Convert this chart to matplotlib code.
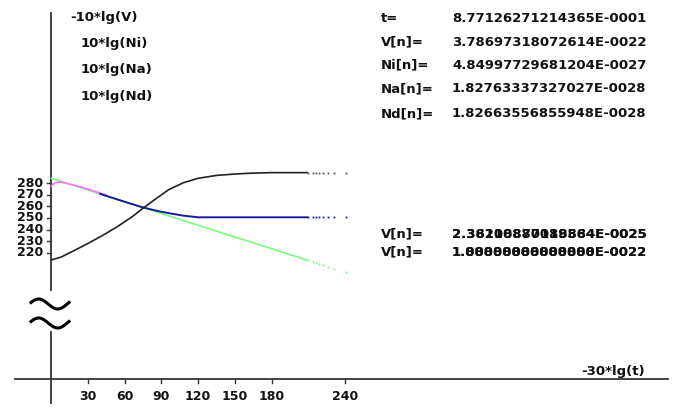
import numpy as np
import matplotlib
matplotlib.use('Agg')
import matplotlib.pyplot as plt
from matplotlib.transforms import blended_transform_factory

# data (t axis is -30*lg(t), y is 10*lg(...))
t_v = [0, 8, 18, 30, 42, 54, 66, 75, 84, 96, 108, 120, 135, 150, 165, 180, 209]
v_v = [213.7, 216.2, 221.5, 228, 235, 242.5, 251, 258.5, 265.5, 274.5, 280.5,
       284.3, 286.8, 288, 288.8, 289.2, 289.2]

t_ni = [40, 60, 72, 80, 88, 97, 108, 120, 209]
v_ni = [270.8, 264, 260, 257.8, 255.8, 254, 252, 250.6, 250.6]

t_na = [0, 3, 7, 15, 25, 35, 45]
v_na = [277.5, 280.3, 281.2, 279.3, 276.5, 273.2, 269.8]

t_nd = [0, 60, 120, 180, 209]
v_nd = [284.3, 264, 243.7, 223.5, 213.6]

# sparse points after the solid part
t_dots = [210, 213.5, 216, 219, 222, 226, 231, 240.5]
v_dots = [289.2] * 8
ni_dots = [250.6] * 8
nd_dots = [213.3, 212.1, 211.3, 210.3, 209.3, 207.9, 206.2, 203.0]

xticks = [30, 60, 90, 120, 150, 180, 240]
yticks = [280, 270, 260, 250, 240, 230, 220]

left_labels = ['-10*lg(V)', '10*lg(Ni)', '10*lg(Na)', '10*lg(Nd)']
right_names = ['t=', 'V[n]=', 'Ni[n]=', 'Na[n]=', 'Nd[n]=']
right_vals = ['8.77126271214365E-0001', '3.78697318072614E-0022',
              '4.84997729681204E-0027', '1.82763337327027E-0028',
              '1.82663556855948E-0028']

fnt = dict(family='DejaVu Sans', weight='bold', size=9.5, color='#111111')
fnt_tick = dict(family='DejaVu Sans', weight='bold', size=9, color='#111111')

fig = plt.figure(figsize=(6.75, 4.17), dpi=100)
fig.patch.set_facecolor('white')

# pixel overlay for the hand drawn axes and text
pix = fig.add_axes([0, 0, 1, 1])
pix.set_xlim(0, 675)
pix.set_ylim(417, 0)
pix.axis('off')

# data axes, scaled so t=0 sits on the vertical line
ax = fig.add_axes([0, 0, 1, 1])
ax.set_xlim(-41.9, 509.6)
ax.set_ylim(78.0, 438.4)
ax.axis('off')
ax.patch.set_alpha(0)

ax.plot(t_nd, v_nd, color='#7dfa7d', lw=1.2, zorder=2)
ax.plot(t_na, v_na, color='#ff70ff', lw=1.2, zorder=3)
ax.plot(t_ni, v_ni, color='#1a1aa0', lw=1.4, zorder=4)
ax.plot(t_v, v_v, color='#222222', lw=1.2, zorder=5)
ax.plot(t_dots, v_dots, 's', ms=1.3, color='#555555', mew=0)
ax.plot(t_dots, ni_dots, 's', ms=1.3, color='#1a1aa0', mew=0)
ax.plot(t_dots, nd_dots, 's', ms=1.3, color='#7dfa7d', mew=0)

# axes lines (broken vertical axis)
ac = '#333333'
pix.plot([51.3, 51.3], [13, 290], color=ac, lw=1.3)
pix.plot([51.3, 51.3], [332, 403], color=ac, lw=1.3)
pix.plot([15, 668], [379, 379], color=ac, lw=1.3)

# break marks
xs = np.linspace(31, 69, 60)
wave = -5 * np.sin(2 * np.pi * (xs - 31) / 38 + 0.3)
pix.plot(xs, 304 + wave, color='black', lw=2.2)
pix.plot(xs, 323 + wave, color='black', lw=2.2)

# ticks
bx = blended_transform_factory(ax.transData, pix.transData)
for t in xticks:
    pix.plot([t, t], [379, 383], color=ac, lw=1, transform=bx)
    pix.text(t, 397, str(t), ha='center', va='center', transform=bx, **fnt_tick)
by = blended_transform_factory(pix.transData, ax.transData)
for v in yticks:
    pix.plot([47, 51.3], [v, v], color=ac, lw=1, transform=by)
    pix.text(43, v, str(v), ha='right', va='center', transform=by, **fnt_tick)

# legend like labels
for lab, x, y in zip(left_labels, [70, 80.5, 80.5, 80.5], [17, 43.5, 69, 96.5]):
    pix.text(x, y, lab, ha='left', va='center', **fnt)

for name, val, y in zip(right_names, right_vals, [18, 42, 65, 88.5, 113.5]):
    pix.text(381, y, name, ha='left', va='center', **fnt)
    pix.text(452, y, val, ha='left', va='center', **fnt)

# overwritten value lines at the bottom right
pix.text(381, 234, 'V[n]=', ha='left', va='center', **fnt)
pix.text(452, 234, '2.38108870188884E-0025', ha='left', va='center', **fnt)
pix.text(452, 234, '2.36210887019564E-0025', ha='left', va='center', **fnt)
pix.text(381, 252, 'V[n]=', ha='left', va='center', **fnt)
pix.text(452, 252, '1.88888888888888E-0022', ha='left', va='center', **fnt)
pix.text(452, 252, '1.00000000000000E-0022', ha='left', va='center', **fnt)

pix.text(645, 372, '-30*lg(t)', ha='right', va='center', **fnt)

fig.savefig('out.png', dpi=100)
